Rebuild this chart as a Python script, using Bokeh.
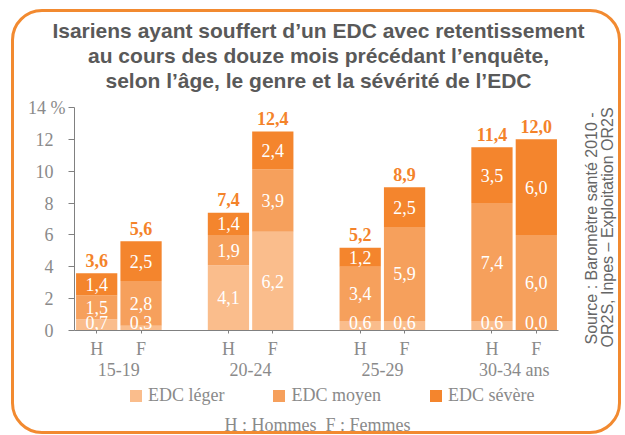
from bokeh.plotting import figure
from bokeh.models import (ColumnDataSource, FactorRange, Range1d, FixedTicker, Label,
                          Legend, LegendItem)
from bokeh.core.properties import value
from bokeh.embed import file_html
from bokeh.resources import INLINE
import math

# ---------------- data ----------------
ages = ["15-19", "20-24", "25-29", "30-34 ans"]
sexes = ["H", "F"]
leger = [0.7, 0.3, 4.1, 6.2, 0.6, 0.6, 0.6, 0.0]
moyen = [1.5, 2.8, 1.9, 3.9, 3.4, 5.9, 7.4, 6.0]
severe = [1.4, 2.5, 1.4, 2.4, 1.2, 2.5, 3.5, 6.0]
totals = [3.6, 5.6, 7.4, 12.4, 5.2, 8.9, 11.4, 12.0]
series_names = ["EDC léger", "EDC moyen", "EDC sévère"]
y_ticks = [0, 2, 4, 6, 8, 10, 12, 14]
y_max = 14
y_unit = "14 %"
title_lines = ["Isariens ayant souffert d\u2019un EDC avec retentissement",
               "au cours des douze mois précédant l\u2019enquête,",
               "selon l\u2019âge, le genre et la sévérité de l\u2019EDC"]
source_lines = ["Source : Baromètre santé 2010 -",
                "OR2S, Inpes \u2013 Exploitation OR2S"]
note = "H : Hommes\u00a0 F : Femmes"

# ---------------- styles / layout ----------------
C_LEGER = "#FABD8C"
C_MOYEN = "#F6A05C"
C_SEV = "#F4852D"
C_BORDER = "#F28A30"
C_TOTAL = "#F4832A"
C_AXIS_TXT = "#8A8A8A"
C_AXIS_LINE = "#808080"
C_TITLE = "#595959"
SERIF = "Liberation Serif"
SANS = "Liberation Sans"

W, H = 612, 427            # canvas (placed at page 10, 8)
OX, OY = 10, 8             # page offset of the canvas
PLOT_L, PLOT_R = 74, 558   # page x of the category axis extent
PLOT_T, PLOT_B = 107, 330  # page y of 14 and 0
GROUP_PAD = 0.97


def fmt(v):
    return f"{v:.1f}".replace(".", ",")


def sx(page_x):
    return page_x - OX


def sy(page_y):
    return H - (page_y - OY)


factors = [(a, s) for a in ages for s in sexes]
n_units = len(ages) * len(sexes) + (len(ages) - 1) * GROUP_PAD
px_per_unit = (PLOT_R - PLOT_L) / n_units
x_pad = (PLOT_L - OX) / px_per_unit
px_per_y = (PLOT_B - PLOT_T) / y_max
y_lo = -(OY + H - PLOT_B) / px_per_y
y_hi = y_max + (PLOT_T - OY) / px_per_y

tops = [l + m + s for l, m, s in zip(leger, moyen, severe)]
src = ColumnDataSource(dict(x=factors, leger=leger, moyen=moyen, severe=severe))

p = figure(width=W, height=H, output_backend="svg", toolbar_location=None, title=None,
           x_range=FactorRange(*factors, group_padding=GROUP_PAD, range_padding=x_pad,
                               range_padding_units="absolute"),
           y_range=Range1d(y_lo, y_hi), min_border=0,
           styles={"margin-left": f"{OX}px", "margin-top": f"{OY}px",
                   "outline": f"3px solid {C_BORDER}", "outline-offset": "-4px",
                   "border-radius": "32px"})
p.background_fill_alpha = 0
p.border_fill_alpha = 0
p.outline_line_color = None
p.xgrid.visible = False
p.ygrid.visible = False

renderers = p.vbar_stack(["leger", "moyen", "severe"], x="x", width=0.93,
                         color=[C_LEGER, C_MOYEN, C_SEV], line_color=None, source=src)

# segment labels
lx, ly, lt = [], [], []
for i, f in enumerate(factors):
    l, m, s = leger[i], moyen[i], severe[i]
    lx += [f, f, f]
    ly += [max(l / 2, 0.5), l + m / 2, l + m + s / 2]
    lt += [fmt(l), fmt(m), fmt(s)]
p.text(x="x", y="y", text="t", source=ColumnDataSource(dict(x=lx, y=ly, t=lt)),
       text_font=value(SERIF), text_font_size="18px", text_color="white",
       text_align="center", text_baseline="middle")

# totals
p.text(x="x", y="y", text="t",
       source=ColumnDataSource(dict(x=factors, y=tops, t=[fmt(v) for v in totals])),
       text_font=value(SERIF), text_font_size="18px", text_font_style="bold",
       text_color=C_TOTAL, text_align="center", text_baseline="middle", y_offset=-13)

# y axis, fixed at the start of the categories
yax = p.yaxis[0]
yax.fixed_location = 0
yax.bounds = (0, y_max)
yax.ticker = FixedTicker(ticks=y_ticks)
yax.major_label_overrides = {y_max: ""}
yax.major_label_text_font = SERIF
yax.major_label_text_font_size = "18px"
yax.major_label_text_color = C_AXIS_TXT
yax.major_label_standoff = 15
yax.major_tick_out = 6
yax.major_tick_in = 0
yax.minor_tick_line_color = None
yax.axis_line_color = C_AXIS_LINE
yax.major_tick_line_color = C_AXIS_LINE
p.add_layout(Label(x=sx(65), y=y_max, x_units="screen", y_units="data", text=y_unit,
                   text_font=SERIF, text_font_size="18px", text_color=C_AXIS_TXT,
                   text_align="right", text_baseline="middle"))

# x axis (nested categories), fixed at y = 0; group names drawn as text at group centres
xax = p.xaxis[0]
xax.fixed_location = 0
xax.bounds = (0, n_units)
xax.major_label_text_font = SERIF
xax.major_label_text_font_size = "18px"
xax.major_label_text_color = C_AXIS_TXT
xax.group_text_color = None
xax.separator_line_color = None
xax.major_tick_out = 3
xax.major_tick_in = 0
xax.major_label_standoff = 5
xax.axis_line_color = C_AXIS_LINE
xax.major_tick_line_color = C_AXIS_LINE
p.text(x=ages, y=[0] * len(ages), text=ages, y_offset=39,
       text_font=value(SERIF), text_font_size="18px", text_color=C_AXIS_TXT,
       text_align="center", text_baseline="middle")

# title
for k, line in enumerate(title_lines):
    p.add_layout(Label(x=sx(318), y=sy(37 + 25 * k - 7), x_units="screen", y_units="screen",
                       text=line, text_font=SANS, text_font_style="bold",
                       text_font_size="21px", text_color=C_TITLE,
                       text_align="center", text_baseline="middle"))

# source (vertical)
for k, line in enumerate(source_lines):
    p.add_layout(Label(x=sx(590.5 + 16 * k), y=sy(344 + 3 * k), x_units="screen",
                       y_units="screen", text=line, angle=math.pi / 2,
                       text_font=SANS, text_font_size="16px", text_color="#666666",
                       text_align="left", text_baseline="middle"))

# legend
legend = Legend(items=[LegendItem(label=n, renderers=[r]) for n, r in zip(series_names, renderers)],
                orientation="horizontal", location=(sx(128), sy(406)),
                glyph_width=15, glyph_height=15, label_standoff=5, spacing=47,
                padding=0, margin=0, border_line_color=None, background_fill_alpha=0,
                label_text_font=SERIF, label_text_font_size="18px",
                label_text_color=C_AXIS_TXT)
p.add_layout(legend)

# note
p.add_layout(Label(x=sx(317), y=sy(424), x_units="screen", y_units="screen", text=note,
                   text_font=SERIF, text_font_size="18px", text_color=C_AXIS_TXT,
                   text_align="center", text_baseline="middle"))

open("out.html", "w").write(file_html(p, INLINE))
